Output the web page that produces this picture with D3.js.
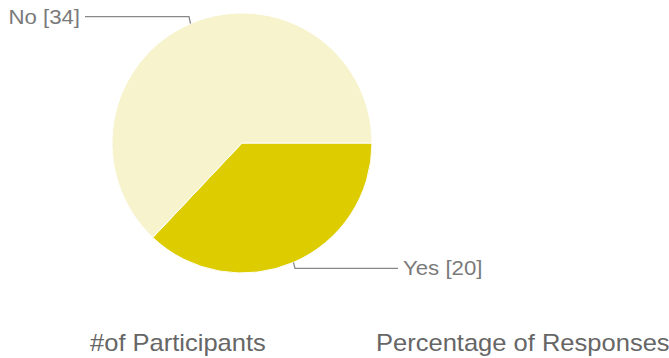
<!DOCTYPE html>
<html>
<head>
<meta charset="utf-8">
<script src="https://cdn.jsdelivr.net/npm/d3@7"></script>
<style>
  html, body { margin: 0; padding: 0; background: #fff; }
  svg { display: block; }
  text { font-family: "Liberation Sans", Arial, sans-serif; }
</style>
</head>
<body>
<svg id="chart" width="669" height="358"></svg>
<script>
// Survey answers and counts
const categories = ["Yes", "No"];
const counts = [20, 34];
const sliceColors = ["#dccc00", "#f7f3cc"];
const captions = ["#of Participants", "Percentage of Responses"];

const svg = d3.select("#chart");
const cx = 242, cy = 143, radius = 130;
const textStretch = 1.11;

const data = categories.map((c, i) => ({ name: c, value: counts[i], color: sliceColors[i] }));

// Start at 3 o'clock and go clockwise
const pie = d3.pie()
  .value(d => d.value)
  .sort(null)
  .startAngle(Math.PI / 2)
  .endAngle(Math.PI / 2 + 2 * Math.PI);

const arc = d3.arc().innerRadius(0).outerRadius(radius);
const arcs = pie(data);

const g = svg.append("g").attr("transform", `translate(${cx},${cy})`);

g.selectAll("path.slice")
  .data(arcs)
  .join("path")
  .attr("class", "slice")
  .attr("d", arc)
  .attr("fill", d => d.data.color)
  .attr("stroke", "#fff")
  .attr("stroke-width", 1);

// Leader lines from each slice's mid-angle on the rim, then out to the label
const labelCfg = {
  Yes: { dy: 6, horiz: 103, side: 1 },
  No:  { dy: -7, horiz: -104, side: -1 }
};

arcs.forEach(a => {
  const cfg = labelCfg[a.data.name];
  const ang = (a.startAngle + a.endAngle) / 2;
  const px = Math.sin(ang) * radius;
  const py = -Math.cos(ang) * radius;
  const elbowX = px + (cfg.side > 0 ? 1.5 : -1.5);
  const elbowY = py + cfg.dy;
  const endX = elbowX + cfg.horiz;
  g.append("path")
    .attr("d", `M${px},${py}L${elbowX},${elbowY}L${endX},${elbowY}`)
    .attr("fill", "none")
    .attr("stroke", "#888")
    .attr("stroke-width", 1.3);
  g.append("text")
    .attr("transform", `translate(${endX + cfg.side * 5},${elbowY}) scale(1.14,1)`)
    .attr("dy", "0.36em")
    .attr("text-anchor", cfg.side > 0 ? "start" : "end")
    .attr("font-size", 19.5)
    .attr("fill", "#7a7a7a")
    .text(`${a.data.name} [${a.data.value}]`);
});

// Captions beneath the pie
const captionX = [90, 376];
svg.selectAll("text.caption")
  .data(captions)
  .join("text")
  .attr("class", "caption")
  .attr("transform", (d, i) => `translate(${captionX[i]},351) scale(${textStretch},1)`)
  .attr("font-size", 23)
  .attr("fill", "#666")
  .text(d => d);
</script>
</body>
</html>
